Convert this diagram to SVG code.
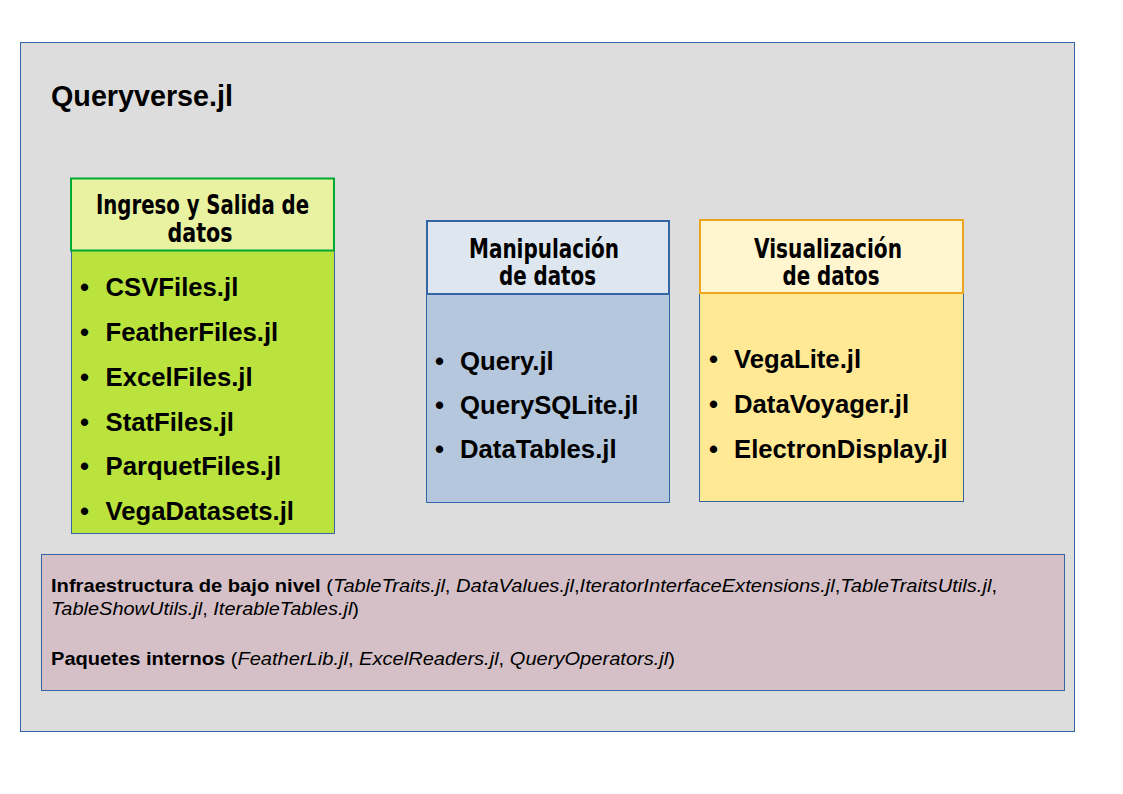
<svg xmlns="http://www.w3.org/2000/svg" width="1123" height="794" viewBox="0 0 1123 794">
<style>
.bg{fill:#ffffff}
.outer{fill:#dddddd;stroke:#3465a4;stroke-width:1}
.body{stroke:#3465a4;stroke-width:1}
.ttl{font-family:"Liberation Sans Narrow","DejaVu Sans Condensed","Liberation Sans",sans-serif;font-stretch:condensed;font-weight:bold;font-size:27px;fill:#000;text-anchor:middle}
.item{font-family:"Liberation Sans",Arial,sans-serif;font-weight:bold;font-size:25.7px;fill:#000}
.main{font-family:"Liberation Sans",Arial,sans-serif;font-weight:bold;font-size:29px;fill:#000}
.small{font-family:"Liberation Sans",Arial,sans-serif;font-size:19px;fill:#000}
.b{font-weight:bold}
.i{font-style:italic}
</style>
<rect class="bg" x="0" y="0" width="1123" height="794"/>
<g id="queryverse">
<rect class="outer" x="20.5" y="42.5" width="1054" height="689"/>
<text class="main" x="51" y="106" textLength="182" lengthAdjust="spacingAndGlyphs">Queryverse.jl</text>
</g>
<g id="io">
<rect class="body" x="71.5" y="250.5" width="263" height="283" fill="#bbe33d"/>
<rect x="71" y="178.5" width="263" height="72" fill="#e8f2a1" stroke="#00a933" stroke-width="2"/>
<text class="ttl" x="202.5" y="214" textLength="213" lengthAdjust="spacingAndGlyphs">Ingreso y Salida de</text>
<text class="ttl" x="200" y="242" textLength="65" lengthAdjust="spacingAndGlyphs">datos</text>
<g class="item">
<text x="80" y="296">•</text><text x="105.5" y="296">CSVFiles.jl</text>
<text x="80" y="341">•</text><text x="105.5" y="341">FeatherFiles.jl</text>
<text x="80" y="386">•</text><text x="105.5" y="386">ExcelFiles.jl</text>
<text x="80" y="431">•</text><text x="105.5" y="431">StatFiles.jl</text>
<text x="80" y="475">•</text><text x="105.5" y="475">ParquetFiles.jl</text>
<text x="80" y="520">•</text><text x="105.5" y="520">VegaDatasets.jl</text>
</g>
</g>
<g id="manipulacion">
<rect class="body" x="426.5" y="294.5" width="243" height="208" fill="#b4c7dc"/>
<rect x="427" y="221" width="242" height="73" fill="#dee6ef" stroke="#3465a4" stroke-width="2"/>
<text class="ttl" x="544" y="258" textLength="150" lengthAdjust="spacingAndGlyphs">Manipulación</text>
<text class="ttl" x="547.5" y="285" textLength="97" lengthAdjust="spacingAndGlyphs">de datos</text>
<g class="item">
<text x="435" y="370">•</text><text x="460" y="370">Query.jl</text>
<text x="435" y="414">•</text><text x="460" y="414">QuerySQLite.jl</text>
<text x="435" y="458">•</text><text x="460" y="458">DataTables.jl</text>
</g>
</g>
<g id="visualizacion">
<rect class="body" x="699.5" y="293.5" width="264" height="208" fill="#ffe994"/>
<rect x="700" y="220" width="263" height="73" fill="#fff5ce" stroke="#eda520" stroke-width="2"/>
<text class="ttl" x="828" y="258" textLength="148" lengthAdjust="spacingAndGlyphs">Visualización</text>
<text class="ttl" x="831" y="285" textLength="97" lengthAdjust="spacingAndGlyphs">de datos</text>
<g class="item">
<text x="709" y="368">•</text><text x="734" y="368">VegaLite.jl</text>
<text x="709" y="413">•</text><text x="734" y="413">DataVoyager.jl</text>
<text x="709" y="458">•</text><text x="734" y="458">ElectronDisplay.jl</text>
</g>
</g>
<g id="infraestructura">
<rect class="body" x="41.5" y="554.5" width="1023" height="136" fill="#d5c0c8"/>
<text class="small" x="51" y="592" textLength="946" lengthAdjust="spacingAndGlyphs"><tspan class="b">Infraestructura de bajo nivel</tspan> (<tspan class="i">TableTraits.jl</tspan>, <tspan class="i">DataValues.jl</tspan>,<tspan class="i">IteratorInterfaceExtensions.jl</tspan>,<tspan class="i">TableTraitsUtils.jl</tspan>,</text>
<text class="small" x="51" y="615" textLength="308" lengthAdjust="spacingAndGlyphs"><tspan class="i">TableShowUtils.jl</tspan>, <tspan class="i">IterableTables.jl</tspan>)</text>
<text class="small" x="51" y="665" textLength="624" lengthAdjust="spacingAndGlyphs"><tspan class="b">Paquetes internos</tspan> (<tspan class="i">FeatherLib.jl</tspan>, <tspan class="i">ExcelReaders.jl</tspan>, <tspan class="i">QueryOperators.jl</tspan>)</text>
</g>
<g id="connectors"></g>
</svg>
